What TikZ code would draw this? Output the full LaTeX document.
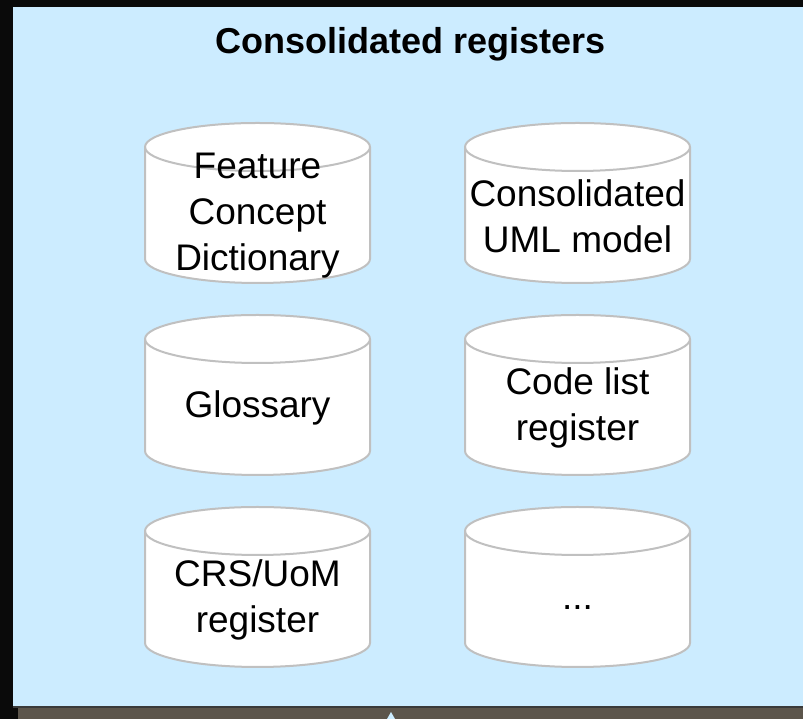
\documentclass[tikz,border=0pt]{standalone}
\usepackage{fontspec}
\setmainfont{Liberation Sans}
\definecolor{bgblack}{HTML}{0A0A0A}
\definecolor{panelblue}{HTML}{CCECFF}
\definecolor{stripgray}{HTML}{5C554B}
\definecolor{darkline}{HTML}{3A3A3A}
\definecolor{cylgray}{HTML}{C0C0C0}
\tikzset{
  cylbody/.style={rectangle, minimum width=225pt, minimum height=160pt, inner sep=0pt, outer sep=0pt},
  cylshape/.style={fill=white, draw=cylgray, line width=2pt, line join=round},
  cylline/.style={draw=cylgray, line width=2pt},
  cyltext/.style={align=center, font=\fontsize{37}{46}\selectfont, inner sep=0pt, text=black},
  titletext/.style={font=\fontsize{36}{43}\selectfont\bfseries, inner sep=0pt, text=black}
}
\newcommand{\dbcyl}[4]{%
  \node[cylbody] (#1) at (#2,#3-80) {};
  \path[cylshape] ([yshift=-24pt]#1.north west) -- ([yshift=24pt]#1.south west)
    arc[start angle=180,end angle=360,x radius=112.5pt,y radius=24pt]
    -- ([yshift=-24pt]#1.north east)
    arc[start angle=0,end angle=180,x radius=112.5pt,y radius=24pt] -- cycle;
  \draw[cylline] ([yshift=-24pt]#1.north west)
    arc[start angle=180,end angle=360,x radius=112.5pt,y radius=24pt];
  \node[cyltext] (#1-t) at (#2,#3-93) {#4};
}
\begin{document}
\begin{tikzpicture}[x=1pt,y=1pt]
\useasboundingbox (0,0) rectangle (803,719);
\fill[bgblack] (0,0) rectangle (803,719);
\fill[panelblue] (13,13) rectangle (803,712);
\fill[darkline] (13,11) rectangle (803,13);
\fill[stripgray] (18,0) rectangle (803,11);
\coordinate (tip) at (391,7);
\fill[panelblue] (tip) -- (395,0) -- (387,0) -- cycle;
\node[titletext, anchor=base] (title) at (411,665) {Consolidated registers};
\dbcyl{fcd}{257.5}{596}{Feature\\Concept\\Dictionary}
\dbcyl{uml}{577.5}{596}{Consolidated\\UML model}
\dbcyl{glo}{257.5}{404}{Glossary}
\dbcyl{code}{577.5}{404}{Code list\\register}
\dbcyl{crs}{257.5}{212}{CRS/UoM\\register}
\dbcyl{more}{577.5}{212}{\strut...}
\end{tikzpicture}
\end{document}
